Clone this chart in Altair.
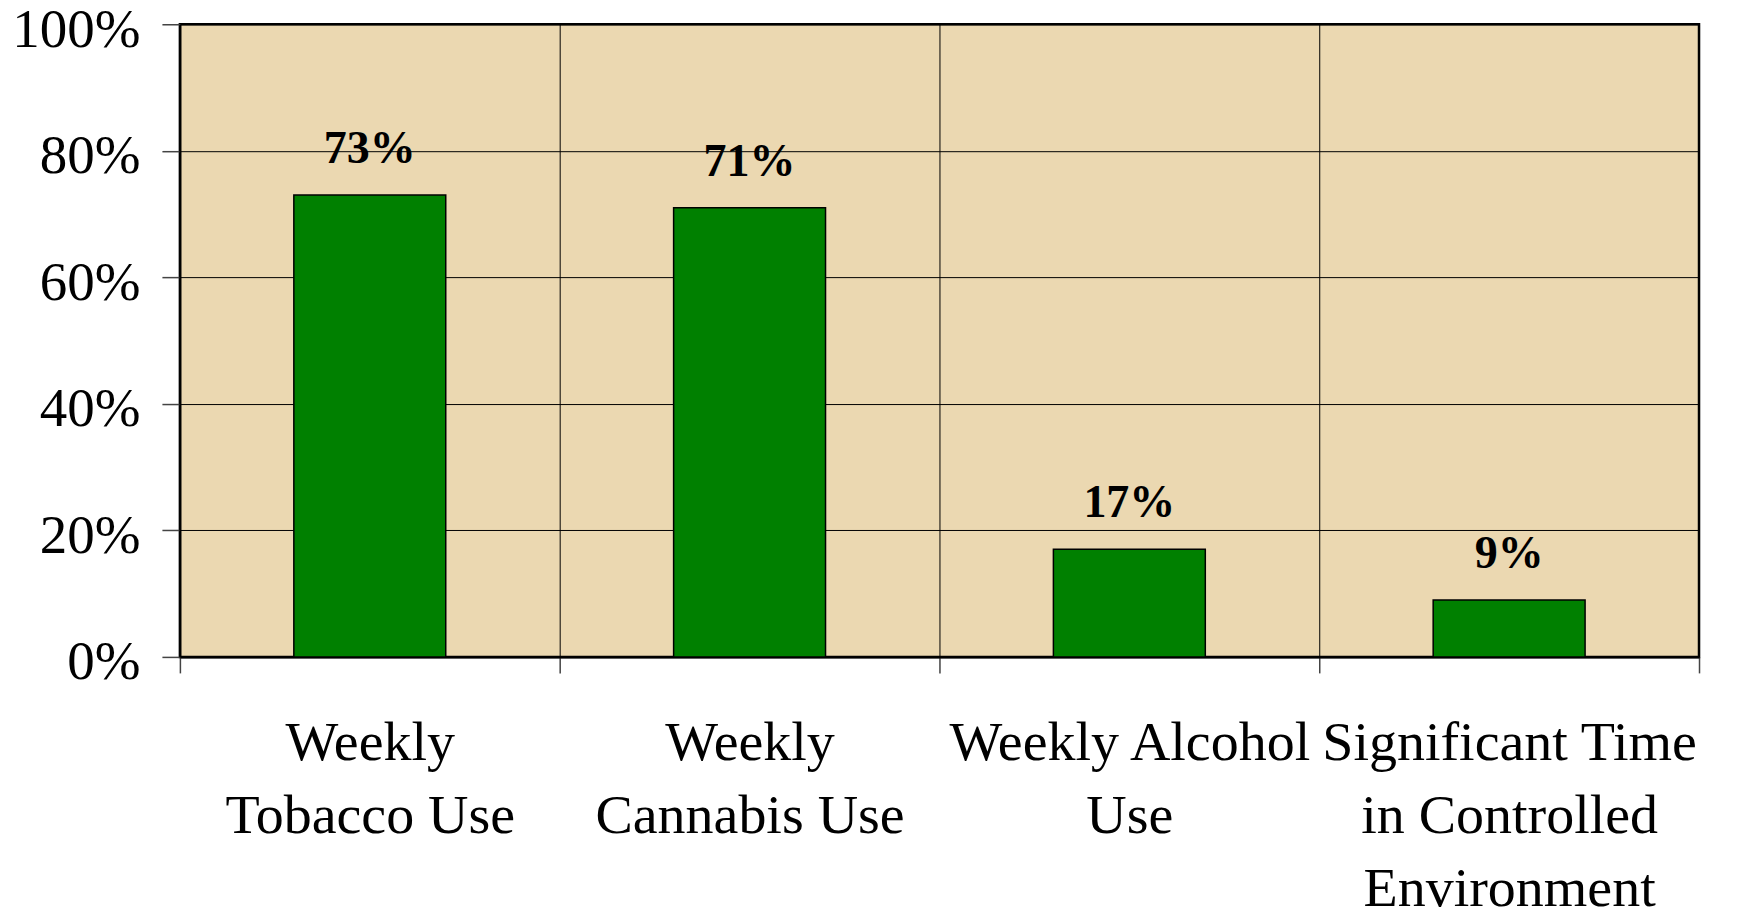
import altair as alt
import pandas as pd

categories = [
    "Weekly\nTobacco Use",
    "Weekly\nCannabis Use",
    "Weekly Alcohol\nUse",
    "Significant Time\nin Controlled\nEnvironment",
]
values = [0.73, 0.71, 0.17, 0.09]
value_labels = ["73%", "71%", "17%", "9%"]
y_ticks = [0.0, 0.2, 0.4, 0.6, 0.8, 1.0]

df = pd.DataFrame({"category": categories, "value": values, "label": value_labels})

FONT = "Liberation Serif"

x_enc = alt.X(
    "category:N",
    sort=categories,
    title=None,
    scale=alt.Scale(paddingInner=0, paddingOuter=0),
    axis=alt.Axis(
        grid=True,
        gridColor="#000000",
        gridWidth=1,
        tickBand="extent",
        tickSize=16,
        tickColor="#444444",
        tickWidth=1.5,
        domainColor="#000000",
        domainWidth=2,
        labelAngle=0,
        labelFont=FONT,
        labelFontSize=56,
        labelColor="#000000",
        labelPadding=43,
        labelLineHeight=73,
        labelLimit=0,
        labelExpr="split(datum.label, '\\n')",
    ),
)

y_enc = alt.Y(
    "value:Q",
    title=None,
    scale=alt.Scale(domain=[0, 1], nice=False),
    axis=alt.Axis(
        values=y_ticks,
        format=".0%",
        grid=True,
        gridColor="#000000",
        gridWidth=1,
        tickSize=18,
        tickColor="#444444",
        tickWidth=1.5,
        domainColor="#000000",
        domainWidth=2,
        labelFont=FONT,
        labelFontSize=55,
        labelColor="#000000",
        labelPadding=22,
        labelOffset=5,
    ),
)

bars = alt.Chart(df).mark_bar(
    width=alt.RelativeBandSize(0.4),
    color="#008000",
    stroke="#000000",
    strokeWidth=1.5,
).encode(x=x_enc, y=y_enc)

texts = alt.Chart(df).mark_text(
    font=FONT,
    fontSize=46,
    fontWeight="bold",
    color="#000000",
    baseline="alphabetic",
    dy=-32,
).encode(x=alt.X("category:N", sort=categories), y="value:Q", text="label:N")

chart = (
    alt.layer(bars, texts)
    .properties(
        width=1520,
        height=633,
        autosize=alt.AutoSizeParams(type="none"),
        padding={"left": 172, "top": 16, "right": 30, "bottom": 320},
        background="#ffffff",
    )
    .configure_view(fill="#EBD8B1", stroke="#000000", strokeWidth=2.5)
)

chart.save("out.html", embed_options={"renderer": "svg", "actions": False})
